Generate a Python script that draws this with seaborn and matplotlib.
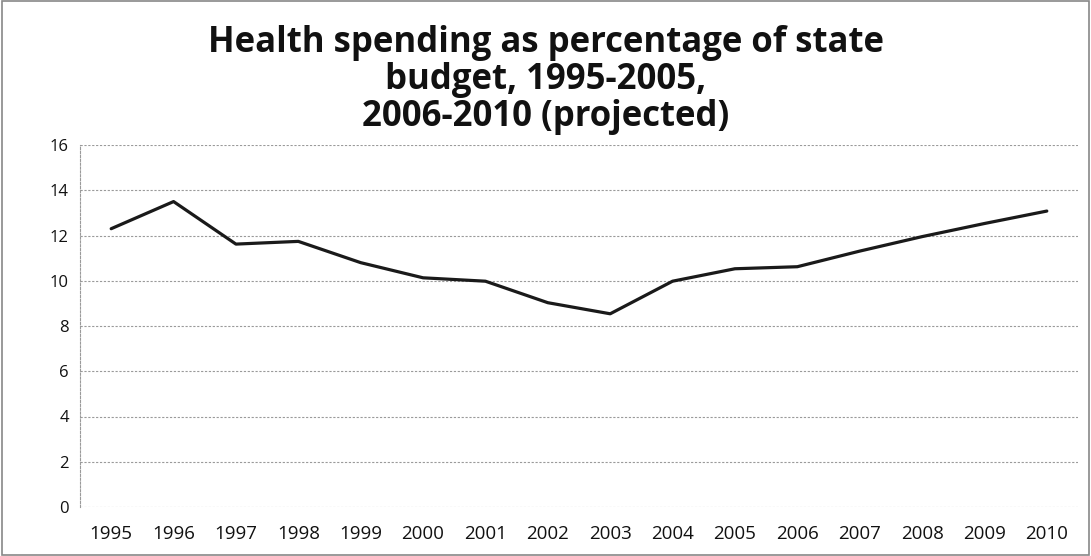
import matplotlib
matplotlib.use("Agg")
import matplotlib.pyplot as plt
import seaborn as sns
import pandas as pd

years = ["1995", "1996", "1997", "1998", "1999", "2000", "2001", "2002",
         "2003", "2004", "2005", "2006", "2007", "2008", "2009", "2010"]
spending = [12.3, 13.5, 11.62, 11.74, 10.8, 10.13, 9.98, 9.03,
            8.54, 9.98, 10.53, 10.62, 11.31, 11.95, 12.53, 13.08]
y_ticks = [0, 2, 4, 6, 8, 10, 12, 14, 16]
title = "Health spending as percentage of state\nbudget, 1995-2005,\n2006-2010 (projected)"

df = pd.DataFrame({"year": years, "value": spending})

sns.set_theme(style="white")
plt.rcParams["font.family"] = ["Open Sans", "DejaVu Sans"]

fig = plt.figure(figsize=(10.91, 5.56), dpi=100)
ax = fig.add_axes([80 / 1091, 1 - 507 / 556, (1078 - 80) / 1091, (507 - 145) / 556])

sns.lineplot(data=df, x="year", y="value", ax=ax, color="#1a1a1a",
             linewidth=2.3, sort=False)

ax.set_ylim(0, 16)
ax.set_xlim(-0.5, len(years) - 0.5)
ax.set_yticks(y_ticks)
ax.set_yticklabels([str(t) for t in y_ticks], fontsize=12)
ax.tick_params(axis="x", labelsize=13.5, length=0, pad=13, labelcolor="#111111")
ax.tick_params(axis="y", length=0, pad=8, labelcolor="#111111")
ax.set_xlabel("")
ax.set_ylabel("")
ax.grid(axis="y", color="#9a9a9a", linestyle=(0, (2, 1.5)), linewidth=0.8)
for s in ["top", "right", "bottom"]:
    ax.spines[s].set_visible(False)
ax.spines["left"].set_color("#9a9a9a")
ax.spines["left"].set_linestyle((0, (2, 1.5)))
ax.spines["left"].set_linewidth(0.8)

fig.text(0.5, 1 - 80 / 556, title, ha="center", va="center",
         fontsize=25, fontweight="bold", linespacing=1.03, color="#111111")

fig.patches.append(plt.Rectangle((0.002, 0.002), 0.996, 0.996, transform=fig.transFigure,
                                 fill=False, edgecolor="#888888", linewidth=1.2))

fig.savefig("out.png", dpi=100, facecolor="white")
